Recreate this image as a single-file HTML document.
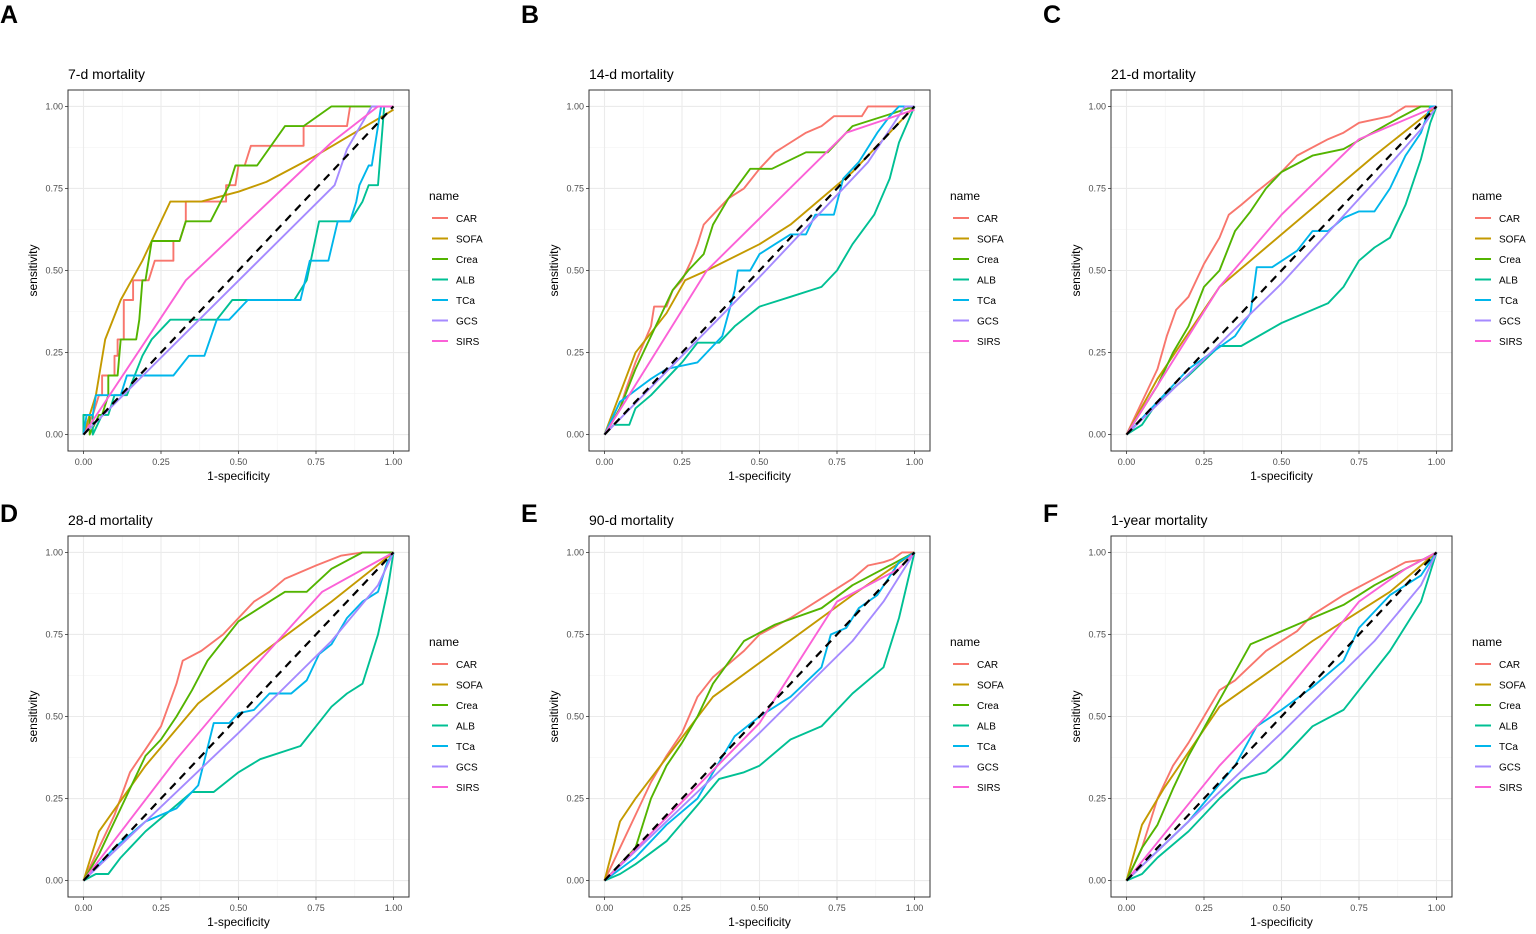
<!DOCTYPE html>
<html><head><meta charset="utf-8">
<style>
html,body{margin:0;padding:0;background:#fff;}
svg{display:block;font-family:"Liberation Sans",sans-serif;}
</style></head>
<body>
<svg id="chart" width="1536" height="934" viewBox="0 0 1536 934" xmlns="http://www.w3.org/2000/svg"></svg>
<script>
// ---- data ----
const seriesNames = ["CAR","SOFA","Crea","ALB","TCa","GCS","SIRS"];
const seriesColors = ["#F8766D","#C49A00","#53B400","#00C094","#00B6EB","#A58AFF","#FB61D7"];
const panelLetters = ["A","B","C","D","E","F"];
const panelTitles = ["7-d mortality","14-d mortality","21-d mortality","28-d mortality","90-d mortality","1-year mortality"];
const tickValues = [0,0.25,0.5,0.75,1];
const tickLabels = ["0.00","0.25","0.50","0.75","1.00"];

const rocA = {
CAR:[[0,0],[0.03,0.06],[0.05,0.12],[0.06,0.12],[0.06,0.18],[0.1,0.18],[0.1,0.24],[0.11,0.24],[0.11,0.29],[0.13,0.29],[0.13,0.41],[0.16,0.41],[0.16,0.47],[0.21,0.47],[0.23,0.53],[0.29,0.53],[0.29,0.59],[0.31,0.59],[0.33,0.65],[0.33,0.71],[0.46,0.71],[0.46,0.76],[0.49,0.76],[0.5,0.82],[0.52,0.82],[0.54,0.88],[0.71,0.88],[0.71,0.94],[0.85,0.94],[0.86,1],[1,1]],
SOFA:[[0,0],[0.04,0.12],[0.07,0.29],[0.12,0.41],[0.19,0.53],[0.22,0.59],[0.28,0.71],[0.38,0.71],[0.5,0.74],[0.59,0.77],[0.75,0.85],[1,0.99]],
Crea:[[0,0],[0,0.06],[0.02,0.06],[0.02,0],[0.05,0.06],[0.06,0.06],[0.08,0.12],[0.08,0.18],[0.11,0.18],[0.12,0.29],[0.17,0.29],[0.18,0.35],[0.19,0.47],[0.2,0.47],[0.21,0.53],[0.22,0.59],[0.31,0.59],[0.33,0.65],[0.41,0.65],[0.47,0.76],[0.49,0.82],[0.56,0.82],[0.65,0.94],[0.71,0.94],[0.8,1],[1,1]],
ALB:[[0,0],[0,0.06],[0.03,0.06],[0.03,0],[0.06,0.06],[0.08,0.06],[0.1,0.12],[0.14,0.12],[0.19,0.24],[0.22,0.29],[0.28,0.35],[0.43,0.35],[0.48,0.41],[0.68,0.41],[0.72,0.47],[0.76,0.65],[0.86,0.65],[0.9,0.71],[0.92,0.76],[0.95,0.76],[0.97,1],[1,1]],
TCa:[[0,0],[0.01,0.06],[0.03,0.06],[0.04,0.12],[0.12,0.12],[0.14,0.18],[0.29,0.18],[0.34,0.24],[0.39,0.24],[0.43,0.35],[0.47,0.35],[0.53,0.41],[0.7,0.41],[0.73,0.53],[0.79,0.53],[0.82,0.65],[0.86,0.65],[0.88,0.71],[0.89,0.76],[0.92,0.82],[0.93,0.82],[0.95,0.94],[0.96,1],[1,1]],
GCS:[[0,0],[0.81,0.76],[0.85,0.87],[0.93,1],[1,1]],
SIRS:[[0,0],[0.33,0.47],[0.8,0.89],[0.95,1],[1,1]]};
const rocB = {
CAR:[[0,0],[0.02,0.03],[0.05,0.08],[0.07,0.14],[0.1,0.22],[0.15,0.33],[0.16,0.39],[0.2,0.39],[0.22,0.44],[0.25,0.47],[0.28,0.53],[0.3,0.58],[0.32,0.64],[0.35,0.67],[0.4,0.72],[0.45,0.75],[0.5,0.81],[0.55,0.86],[0.6,0.89],[0.65,0.92],[0.7,0.94],[0.74,0.97],[0.83,0.97],[0.85,1],[1,1]],
SOFA:[[0,0],[0.1,0.25],[0.2,0.37],[0.26,0.47],[0.33,0.5],[0.5,0.58],[0.6,0.64],[0.8,0.8],[1,1]],
Crea:[[0,0],[0.05,0.08],[0.1,0.2],[0.15,0.3],[0.22,0.44],[0.27,0.5],[0.32,0.55],[0.35,0.64],[0.4,0.72],[0.47,0.81],[0.54,0.81],[0.65,0.86],[0.72,0.86],[0.8,0.94],[1,1]],
ALB:[[0,0],[0.03,0.03],[0.08,0.03],[0.1,0.08],[0.15,0.12],[0.2,0.17],[0.25,0.22],[0.3,0.28],[0.37,0.28],[0.42,0.33],[0.5,0.39],[0.6,0.42],[0.7,0.45],[0.75,0.5],[0.8,0.58],[0.87,0.67],[0.92,0.78],[0.95,0.89],[1,1]],
TCa:[[0,0],[0.05,0.1],[0.15,0.17],[0.2,0.2],[0.3,0.22],[0.38,0.3],[0.42,0.44],[0.43,0.5],[0.47,0.5],[0.5,0.55],[0.55,0.58],[0.6,0.61],[0.65,0.61],[0.68,0.67],[0.74,0.67],[0.77,0.78],[0.82,0.83],[0.88,0.92],[0.92,0.97],[0.95,1],[1,1]],
GCS:[[0,0],[0.5,0.48],[0.85,0.83],[0.97,1],[1,1]],
SIRS:[[0,0],[0.33,0.5],[0.78,0.92],[1,0.99]]};
const rocC = {
CAR:[[0,0],[0.05,0.1],[0.1,0.2],[0.13,0.3],[0.16,0.38],[0.2,0.42],[0.25,0.52],[0.3,0.6],[0.33,0.67],[0.37,0.7],[0.42,0.74],[0.5,0.8],[0.55,0.85],[0.65,0.9],[0.7,0.92],[0.75,0.95],[0.85,0.97],[0.9,1],[1,1]],
SOFA:[[0,0],[0.1,0.17],[0.2,0.31],[0.3,0.45],[0.45,0.57],[0.6,0.69],[0.8,0.85],[1,1]],
Crea:[[0,0],[0.1,0.15],[0.15,0.25],[0.2,0.33],[0.25,0.45],[0.3,0.5],[0.35,0.62],[0.4,0.68],[0.45,0.75],[0.5,0.8],[0.6,0.85],[0.7,0.87],[0.85,0.95],[0.95,1],[1,1]],
ALB:[[0,0],[0.05,0.03],[0.1,0.1],[0.2,0.18],[0.3,0.27],[0.37,0.27],[0.5,0.34],[0.65,0.4],[0.7,0.45],[0.75,0.53],[0.8,0.57],[0.85,0.6],[0.9,0.7],[0.95,0.84],[0.98,0.95],[1,1]],
TCa:[[0,0],[0.2,0.2],[0.35,0.3],[0.4,0.37],[0.42,0.51],[0.47,0.51],[0.55,0.56],[0.6,0.62],[0.65,0.62],[0.7,0.66],[0.75,0.68],[0.8,0.68],[0.85,0.75],[0.9,0.85],[0.95,0.92],[0.98,1],[1,1]],
GCS:[[0,0],[0.5,0.46],[0.8,0.77],[0.95,0.93],[1,1]],
SIRS:[[0,0],[0.3,0.45],[0.5,0.67],[0.75,0.9],[1,1]]};
const rocD = {
CAR:[[0,0],[0.05,0.1],[0.1,0.2],[0.15,0.33],[0.2,0.4],[0.25,0.47],[0.3,0.6],[0.32,0.67],[0.38,0.7],[0.45,0.75],[0.5,0.8],[0.55,0.85],[0.6,0.88],[0.65,0.92],[0.75,0.96],[0.83,0.99],[0.9,1],[1,1]],
SOFA:[[0,0],[0.05,0.15],[0.2,0.35],[0.37,0.54],[0.6,0.71],[0.8,0.85],[1,1]],
Crea:[[0,0],[0.05,0.08],[0.1,0.18],[0.15,0.28],[0.2,0.38],[0.25,0.43],[0.3,0.5],[0.35,0.58],[0.4,0.67],[0.45,0.73],[0.5,0.79],[0.6,0.85],[0.65,0.88],[0.72,0.88],[0.8,0.95],[0.9,1],[1,1]],
ALB:[[0,0],[0.04,0.02],[0.08,0.02],[0.12,0.07],[0.2,0.15],[0.3,0.23],[0.35,0.27],[0.42,0.27],[0.5,0.33],[0.57,0.37],[0.7,0.41],[0.75,0.47],[0.8,0.53],[0.85,0.57],[0.9,0.6],[0.95,0.75],[0.98,0.88],[1,1]],
TCa:[[0,0],[0.1,0.1],[0.2,0.18],[0.3,0.22],[0.37,0.29],[0.42,0.48],[0.47,0.48],[0.5,0.51],[0.55,0.52],[0.6,0.57],[0.67,0.57],[0.72,0.61],[0.76,0.69],[0.8,0.72],[0.85,0.8],[0.9,0.85],[0.95,0.88],[0.98,0.97],[1,1]],
GCS:[[0,0],[0.5,0.45],[0.8,0.73],[0.95,0.9],[1,1]],
SIRS:[[0,0],[0.3,0.37],[0.55,0.65],[0.77,0.88],[1,1]]};
const rocE = {
CAR:[[0,0],[0.05,0.1],[0.1,0.2],[0.15,0.3],[0.2,0.38],[0.25,0.45],[0.3,0.56],[0.35,0.62],[0.45,0.7],[0.5,0.75],[0.6,0.8],[0.7,0.86],[0.8,0.92],[0.85,0.96],[0.9,0.97],[0.93,0.98],[0.96,1],[1,1]],
SOFA:[[0,0],[0.05,0.18],[0.1,0.25],[0.35,0.56],[0.8,0.87],[1,1]],
Crea:[[0,0],[0.1,0.1],[0.15,0.25],[0.2,0.35],[0.25,0.42],[0.3,0.5],[0.35,0.6],[0.45,0.73],[0.55,0.78],[0.7,0.83],[0.8,0.9],[0.9,0.95],[1,1]],
ALB:[[0,0],[0.05,0.02],[0.1,0.05],[0.2,0.12],[0.3,0.23],[0.37,0.31],[0.45,0.33],[0.5,0.35],[0.6,0.43],[0.7,0.47],[0.8,0.57],[0.9,0.65],[0.95,0.8],[1,1]],
TCa:[[0,0],[0.1,0.07],[0.2,0.17],[0.3,0.25],[0.42,0.44],[0.5,0.5],[0.6,0.56],[0.7,0.65],[0.73,0.75],[0.78,0.77],[0.82,0.83],[0.88,0.87],[0.95,0.97],[1,1]],
GCS:[[0,0],[0.5,0.45],[0.8,0.73],[0.9,0.85],[1,1]],
SIRS:[[0,0],[0.5,0.48],[0.75,0.85],[0.95,0.95],[1,1]]};
const rocF = {
CAR:[[0,0],[0.05,0.1],[0.1,0.25],[0.15,0.35],[0.2,0.42],[0.25,0.5],[0.3,0.58],[0.35,0.61],[0.45,0.7],[0.55,0.76],[0.6,0.81],[0.7,0.87],[0.8,0.92],[0.9,0.97],[0.97,0.98],[1,1]],
SOFA:[[0,0],[0.05,0.17],[0.12,0.28],[0.3,0.53],[0.6,0.73],[0.85,0.88],[1,1]],
Crea:[[0,0],[0.05,0.1],[0.1,0.17],[0.15,0.28],[0.2,0.38],[0.3,0.55],[0.4,0.72],[0.5,0.76],[0.6,0.8],[0.7,0.84],[0.8,0.9],[0.9,0.95],[1,1]],
ALB:[[0,0],[0.05,0.02],[0.1,0.07],[0.2,0.15],[0.3,0.25],[0.37,0.31],[0.45,0.33],[0.5,0.37],[0.6,0.47],[0.7,0.52],[0.75,0.58],[0.85,0.7],[0.95,0.85],[1,1]],
TCa:[[0,0],[0.2,0.18],[0.35,0.35],[0.42,0.47],[0.5,0.52],[0.6,0.59],[0.7,0.67],[0.75,0.77],[0.85,0.87],[0.95,0.93],[1,1]],
GCS:[[0,0],[0.5,0.45],[0.8,0.73],[0.95,0.9],[1,1]],
SIRS:[[0,0],[0.3,0.35],[0.45,0.5],[0.75,0.85],[0.9,0.95],[1,1]]};
const panelData = [rocA,rocB,rocC,rocD,rocE,rocF];

// ---- drawing ----
const NS="http://www.w3.org/2000/svg";
const svg=document.getElementById("chart");
function mk(tag,attrs,parent){const e=document.createElementNS(NS,tag);for(const k in attrs)e.setAttribute(k,attrs[k]);(parent||svg).appendChild(e);return e;}

const boxLefts=[68,589,1111], boxTops=[90,536], letterYs=[23,522];
const boxW=341, boxH=361, expand=15.5, expandY=16.4;

panelData.forEach((data,pi)=>{
  const row=Math.floor(pi/3);
  const bx=boxLefts[pi%3], by=boxTops[row];
  const g=mk("g",{});
  
  
  const x0=bx+expand, x1=bx+boxW-expand, y0=by+boxH-expandY, y1=by+expandY;
  const sx=v=>x0+v*(x1-x0), sy=v=>y0-v*(y0-y1);
  const letter=mk("text",{x:bx-68,y:letterYs[row],"font-size":25,"font-weight":"bold",fill:"#000"},g);
  letter.textContent=panelLetters[pi];
  
  
  const title=mk("text",{x:bx,y:by-11,"font-size":14,fill:"#000"},g);
  title.textContent=panelTitles[pi];
  
  
  mk("rect",{x:bx,y:by,width:boxW,height:boxH,fill:"#fff"},g);
  for(let i=0;i<4;i++){const v=0.125+0.25*i;
    mk("line",{x1:sx(v),x2:sx(v),y1:by,y2:by+boxH,stroke:"#f3f3f3","stroke-width":0.6},g);
    mk("line",{y1:sy(v),y2:sy(v),x1:bx,x2:bx+boxW,stroke:"#f3f3f3","stroke-width":0.6},g);}
  tickValues.forEach((v,i)=>{
    mk("line",{x1:sx(v),x2:sx(v),y1:by,y2:by+boxH,stroke:"#ebebeb","stroke-width":1.1},g);
    mk("line",{y1:sy(v),y2:sy(v),x1:bx,x2:bx+boxW,stroke:"#ebebeb","stroke-width":1.1},g);
    mk("line",{x1:sx(v),x2:sx(v),y1:by+boxH,y2:by+boxH+3,stroke:"#333","stroke-width":0.8},g);
    mk("line",{y1:sy(v),y2:sy(v),x1:bx-3,x2:bx,stroke:"#333","stroke-width":0.8},g);
    const tx=mk("text",{x:sx(v),y:by+boxH+14,"font-size":9,fill:"#4d4d4d","text-anchor":"middle"},g);
    tx.textContent=tickLabels[i];
    
    
    const ty=mk("text",{x:bx-5,y:sy(v)+3,"font-size":9,fill:"#4d4d4d","text-anchor":"end"},g);
    ty.textContent=tickLabels[i];
    
    
  });
  seriesNames.forEach((nm,si)=>{
    const pts=data[nm].map(p=>sx(p[0]).toFixed(1)+","+sy(p[1]).toFixed(1)).join(" ");
    const pl=mk("polyline",{points:pts,fill:"none",stroke:seriesColors[si],"stroke-width":1.9,"stroke-linejoin":"round"},g);
    
    
  });
  const dg=mk("line",{x1:sx(0),y1:sy(0),x2:sx(1),y2:sy(1),stroke:"#000","stroke-width":2.2,"stroke-dasharray":"8,6"},g);
  
  
  mk("rect",{x:bx,y:by,width:boxW,height:boxH,fill:"none",stroke:"#333","stroke-width":1},g);
  const xt=mk("text",{x:bx+boxW/2,y:by+boxH+29,"font-size":12,fill:"#000","text-anchor":"middle"},g);
  xt.textContent="1-specificity";
  
  
  const yt=mk("text",{x:0,y:0,"font-size":12,fill:"#000","text-anchor":"middle",transform:`translate(${bx-31},${by+boxH/2}) rotate(-90)`},g);
  yt.textContent="sensitivity";
  
  
  const lx=bx+boxW+21;
  const lt=mk("text",{x:lx-1,y:by+110,"font-size":12,fill:"#000"},g);
  lt.textContent="name";
  
  
  seriesNames.forEach((nm,si)=>{
    const yy=by+128+si*20.5;
    const ln=mk("line",{x1:lx+2,x2:lx+18,y1:yy,y2:yy,stroke:seriesColors[si],"stroke-width":2},g);
    
    
    const t=mk("text",{x:lx+26,y:yy+4,"font-size":10,fill:"#000"},g);
    t.textContent=nm;
    
    
  });
});
</script>
</body></html>
